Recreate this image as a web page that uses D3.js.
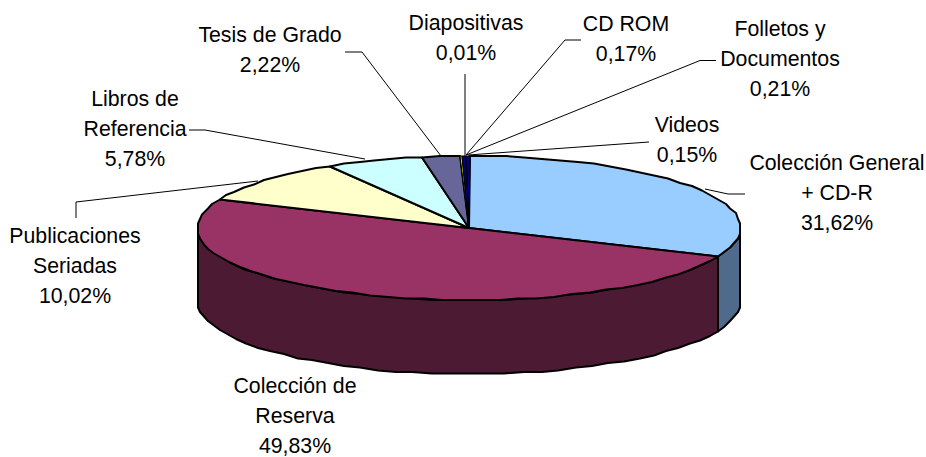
<!DOCTYPE html>
<html>
<head>
<meta charset="utf-8">
<script src="https://cdn.jsdelivr.net/npm/d3@7"></script>
<style>
  html, body { margin: 0; background: #fff; }
  svg { display: block; }
  text { font-family: "Liberation Sans", Arial, sans-serif; font-size: 21.3px; fill: #000; text-anchor: middle; }
</style>
</head>
<body>
<div id="chart"></div>
<script>
// Slices, clockwise from 12 o'clock
const categories = ['Colección General + CD-R', 'Colección de Reserva', 'Publicaciones Seriadas', 'Libros de Referencia',
  'Tesis de Grado', 'Diapositivas', 'CD ROM', 'Folletos y Documentos', 'Videos'];
const values = [31.62, 49.83, 10.02, 5.78, 2.22, 0.01, 0.17, 0.21, 0.15];
const valueLabels = ['31,62%', '49,83%', '10,02%', '5,78%', '2,22%', '0,01%', '0,17%', '0,21%', '0,15%'];
const topColors = ['#99ccff', '#993366', '#ffffcc', '#ccffff', '#666699', '#ff8080', '#ffff00', '#000080', '#000080'];
const wallColors = ['#4f6a8a', '#4d1a33', '#808066', '#668080', '#33334d', '#804040', '#808000', '#000040', '#000040'];

const width = 926, height = 457;
const cx = 469, cy = 228, rx = 271.5, ry = 72, depth = 74;

// label layout: wrapped lines, centre x and first baseline
const labelLines = [
  ['Colección General', '+ CD-R'], ['Colección de', 'Reserva'], ['Publicaciones', 'Seriadas'], ['Libros de', 'Referencia'],
  ['Tesis de Grado'], ['Diapositivas'], ['CD ROM'], ['Folletos y', 'Documentos'], ['Videos']
];
const labelX = [837, 295, 75, 135, 270, 466, 626, 780, 687];
const labelY = [170, 392.5, 243, 106, 42, 30, 31, 36, 132];
const lineStep = 30;

// leader lines, [] for the label without one
const leaders = [
  [[705, 189], [728, 194], [745, 194]],
  [],
  [[258, 181], [76, 202], [76, 218]],
  [[365, 159], [205, 130], [189, 130]],
  [[441, 156], [362, 52], [345, 52]],
  [[465, 156], [465, 74]],
  [[466, 155], [565, 40], [581, 40]],
  [[466, 155], [700, 60.5], [716, 60.5]],
  [[468, 155], [649, 142]]
];

const svg = d3.select('#chart').append('svg').attr('width', width).attr('height', height);

const pie = d3.pie().sort(null).value(d => d)(values);

const xScale = d3.scaleLinear().domain([-1, 1]).range([cx - rx, cx + rx]);
const yScale = d3.scaleLinear().domain([-1, 1]).range([cy - ry, cy + ry]);
const line = d3.line();

// the original rim is a coarse polygon, so snap it a bit instead of drawing a clean ellipse
function rimPoint(a, offset = 0) {
  const x = xScale(Math.sin(a));
  const y = yScale(-Math.cos(a)) + offset;
  return [Math.round(x / 2) * 2, Math.round(y / 1.5) * 1.5];
}

function rim(a0, a1, offset = 0) {
  const n = Math.max(1, Math.ceil((a1 - a0) / (Math.PI / 45)));
  return d3.range(n + 1).map(i => rimPoint(a0 + (a1 - a0) * i / n, offset));
}

// front walls, only the part between 3 and 9 o'clock shows
pie.forEach((d, i) => {
  const a0 = Math.max(d.startAngle, Math.PI / 2);
  const a1 = Math.min(d.endAngle, Math.PI * 1.5);
  if (a1 <= a0) return;
  const pts = rim(a0, a1).concat(rim(a0, a1, depth).reverse());
  svg.append('path')
    .attr('d', line(pts) + 'Z')
    .attr('fill', wallColors[i])
    .attr('stroke', '#000')
    .attr('stroke-width', 2)
    .attr('stroke-linejoin', 'round');
});

// leaders go under the pie top edge
const leaderG = svg.append('g');
leaders.forEach(pts => {
  if (!pts.length) return;
  leaderG.append('path')
    .attr('d', line(pts))
    .attr('fill', 'none')
    .attr('stroke', '#000')
    .attr('stroke-width', 1);
});

// top faces
pie.forEach((d, i) => {
  const pts = [[cx, cy]].concat(rim(d.startAngle, d.endAngle));
  svg.append('path')
    .attr('d', line(pts) + 'Z')
    .attr('fill', topColors[i])
    .attr('stroke', '#000')
    .attr('stroke-width', d.value < 1 ? 1 : 2)
    .attr('stroke-linejoin', 'round');
});

// labels
categories.forEach((c, i) => {
  const t = svg.append('text').attr('aria-label', c);
  labelLines[i].concat(valueLabels[i]).forEach((s, k) => {
    t.append('tspan')
      .attr('x', labelX[i])
      .attr('y', labelY[i] + k * lineStep)
      .text(s);
  });
});
</script>
</body>
</html>
